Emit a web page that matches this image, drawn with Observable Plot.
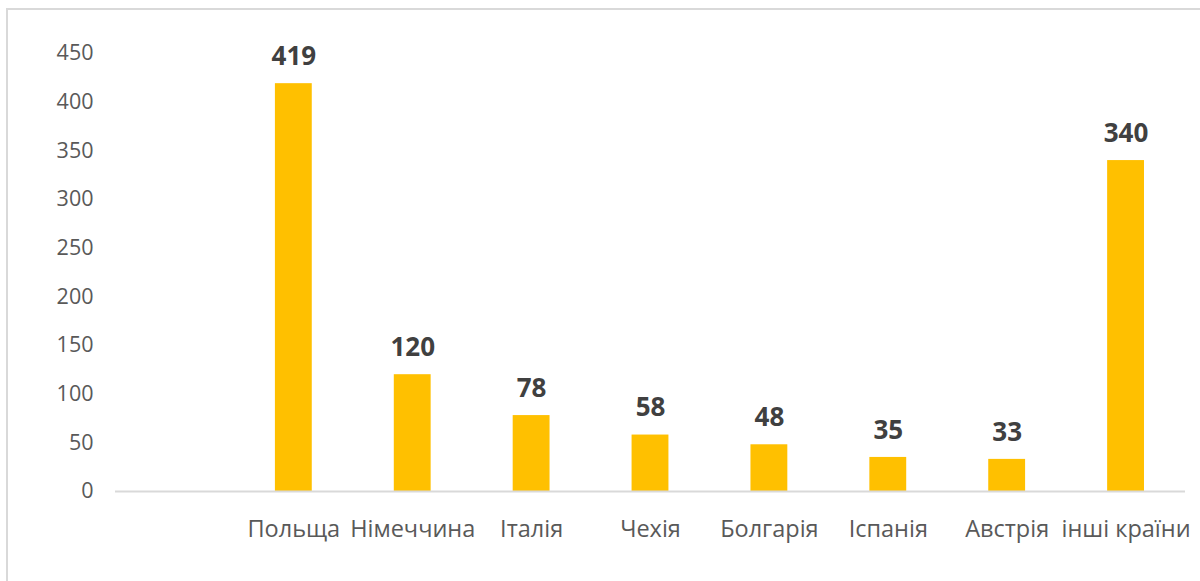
<!DOCTYPE html>
<html>
<head>
<meta charset="utf-8">
<script src="https://cdn.jsdelivr.net/npm/d3@7"></script>
<script src="https://cdn.jsdelivr.net/npm/@observablehq/plot@0.6"></script>
<style>
  html, body { margin: 0; padding: 0; background: #fff; }
  #wrap { position: relative; width: 1200px; height: 581px; overflow: hidden; }
  #frame { position: absolute; left: 6px; top: 8px; width: 1300px; height: 700px;
           border-left: 2px solid #d9d9d9; border-top: 2px solid #d9d9d9; box-sizing: border-box; pointer-events: none; }
</style>
</head>
<body>
<div id="wrap"><div id="frame"></div></div>
<script>
const categories = ["Польща", "Німеччина", "Італія", "Чехія", "Болгарія", "Іспанія", "Австрія", "інші країни"];
const values = [419, 120, 78, 58, 48, 35, 33, 340];
const yTicks = [0, 50, 100, 150, 200, 250, 300, 350, 400, 450];

const data = categories.map((c, i) => ({category: c, value: values[i]}));
const domain = [""].concat(categories);

const chart = Plot.plot({
  width: 1200,
  height: 581,
  marginLeft: 115,
  marginRight: 15,
  marginTop: 53,
  marginBottom: 90,
  style: {fontFamily: "'Open Sans', sans-serif", background: "transparent"},
  x: {domain, paddingInner: 0.69, paddingOuter: 0.345, round: false, label: null},
  y: {domain: [0, 450], label: null},
  marks: [
    Plot.axisY({ticks: yTicks, tickSize: 0, tickPadding: 22, fontSize: 21.5, fill: "#595959", label: null}),
    Plot.axisX({tickSize: 0, tickPadding: 29, fontSize: 23.5, fill: "#595959", label: null}),
    Plot.barY(data, {x: "category", y: "value", fill: "#FFC000"}),
    Plot.ruleY([0], {stroke: "#d9d9d9", strokeWidth: 2}),
    Plot.text(data, {x: "category", y: "value", text: d => String(d.value), dy: -27,
      fontSize: 26, fontWeight: "bold", fill: "#404040"})
  ]
});
document.getElementById("wrap").prepend(chart);
</script>
</body>
</html>
